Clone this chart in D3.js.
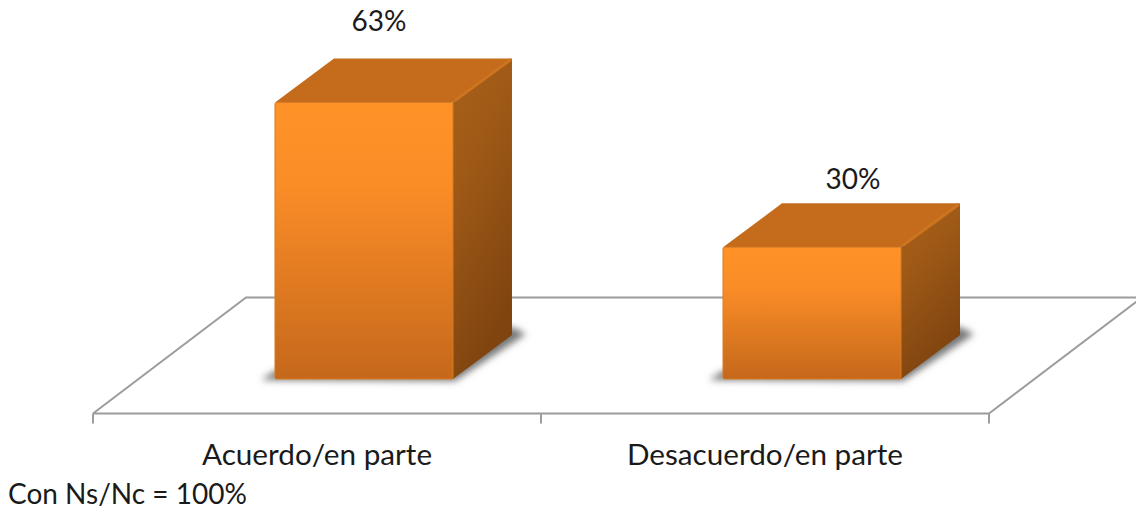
<!DOCTYPE html>
<meta charset="utf-8">
<style>
html, body { margin: 0; background: #fff; }
svg { display: block; }
text { font-family: Lato, "Open Sans", sans-serif; font-size: 28px; fill: #1a1a1a; }
.tick text { font-size: 29.7px; }
.floor { fill: none; stroke: #9c9c9c; stroke-width: 2; }
.domain { display: none; }
</style>
<svg width="1136" height="510"></svg>
<script src="https://d3js.org/d3.v7.min.js"></script>
<script>

var categories = ["Acuerdo/en parte", "Desacuerdo/en parte"];
var values = [63, 30];
var valueLabels = ["63%", "30%"];
var note = "Con Ns/Nc = 100%";

var svg = d3.select("svg");

// floor of the 3d box
var floorY = 413.5, backY = 297.5, floorLeft = 93, floorRight = 989;
var depthX = 153;
// bars stand partway into the floor
var barDX = 47, barBase = 379, dx = 59, dy = 44;

var xAxisScale = d3.scaleBand().domain(categories).range([floorLeft, floorRight]);
var x = d3.scaleBand()
	.domain(categories)
	.range([floorLeft + barDX, floorRight + barDX])
	.paddingInner(0.6027)
	.paddingOuter(0.3013);
var y = d3.scaleLinear().domain([0, 70]).range([barBase, barBase - 70 * 4.39]);

var defs = svg.append("defs");

var front = defs.append("linearGradient").attr("id", "front").attr("x2", 0).attr("y2", 1);
front.append("stop").attr("offset", "0").attr("stop-color", "#ff9227");
front.append("stop").attr("offset", "0.3").attr("stop-color", "#fb8d27");
front.append("stop").attr("offset", "1").attr("stop-color", "#c5681b");

var side = defs.append("linearGradient").attr("id", "side").attr("x2", 0.35).attr("y2", 1);
side.append("stop").attr("offset", "0").attr("stop-color", "#a8611a");
side.append("stop").attr("offset", "0.35").attr("stop-color", "#a05a17");
side.append("stop").attr("offset", "1").attr("stop-color", "#7f440f");

defs.append("filter").attr("id", "blur")
	.attr("x", "-20%").attr("y", "-20%").attr("width", "140%").attr("height", "140%")
  .append("feGaussianBlur").attr("stdDeviation", 3.5);

// floor lines
svg.append("path").attr("class", "floor").attr("d",
	"M" + floorLeft + "," + floorY + "L" + floorRight + "," + floorY +
	"M" + floorLeft + "," + floorY + "L" + (floorLeft + depthX) + "," + backY + "L1140," + backY +
	"M" + floorRight + "," + floorY + "L" + (floorRight + depthX) + "," + backY);

// boundary ticks between the categories
svg.selectAll(".sep")
	.data(d3.range(categories.length + 1))
	.enter().append("line")
	.attr("class", "floor")
	.attr("x1", function(i) { return floorLeft + i * xAxisScale.step(); })
	.attr("x2", function(i) { return floorLeft + i * xAxisScale.step(); })
	.attr("y1", floorY)
	.attr("y2", floorY + 10);

// category labels
var axis = svg.append("g")
	.attr("transform", "translate(0," + floorY + ")")
	.call(d3.axisBottom(xAxisScale).tickSize(0).tickPadding(30));
axis.selectAll("text").attr("fill", null);
axis.attr("font-size", null).attr("font-family", null);

var bars = svg.selectAll(".bar")
	.data(categories.map(function(c, i) { return {name: c, value: values[i], label: valueLabels[i], i: i}; }))
	.enter().append("g").attr("class", "bar");

function pts(a) { return a.map(function(p) { return p.join(","); }).join(" "); }

// soft shadow on the floor
bars.append("polygon")
	.attr("fill", "#777")
	.attr("filter", "url(#blur)")
	.attr("points", function(d) {
		var l = x(d.name), r = l + x.bandwidth();
		return pts([[l - 14, barBase + 1], [r + 2, barBase + 2], [r + dx + 14, barBase - dy - 1],
			[r + dx, barBase - dy - 8], [l, barBase - 8]]);
	});

// side
bars.append("polygon")
	.attr("fill", "url(#side)")
	.attr("points", function(d) {
		var r = x(d.name) + x.bandwidth();
		return pts([[r, y(d.value)], [r + dx, y(d.value) - dy], [r + dx, barBase - dy], [r, barBase]]);
	});

// top
bars.append("polygon")
	.attr("fill", "#c46c1c")
	.attr("points", function(d) {
		var l = x(d.name), r = l + x.bandwidth();
		return pts([[l, y(d.value)], [l + dx, y(d.value) - dy], [r + dx, y(d.value) - dy], [r, y(d.value)]]);
	});

// lighter bevel along the top's right edge
bars.append("line")
	.attr("stroke", "#cc741f")
	.attr("stroke-width", 3)
	.attr("x1", function(d) { return x(d.name) + x.bandwidth() + 2; })
	.attr("y1", function(d) { return y(d.value) - 2; })
	.attr("x2", function(d) { return x(d.name) + x.bandwidth() + dx - 1; })
	.attr("y2", function(d) { return y(d.value) - dy + 1; });

// front
bars.append("rect")
	.attr("x", function(d) { return x(d.name); })
	.attr("y", function(d) { return y(d.value); })
	.attr("width", x.bandwidth())
	.attr("height", function(d) { return barBase - y(d.value); })
	.attr("rx", 1.5)
	.attr("fill", "url(#front)")
	.attr("stroke", "#d97a20")
	.attr("stroke-width", 1);

// value labels, placed by hand above each bar
var labelDX = [15, 41], labelDY = [71, 58];
bars.append("text")
	.attr("text-anchor", "middle")
	.attr("x", function(d) { return x(d.name) + x.bandwidth() / 2 + labelDX[d.i]; })
	.attr("y", function(d) { return y(d.value) - labelDY[d.i]; })
	.text(function(d) { return d.label; });

svg.append("text").attr("x", 8).attr("y", 504).text(note);

</script>
